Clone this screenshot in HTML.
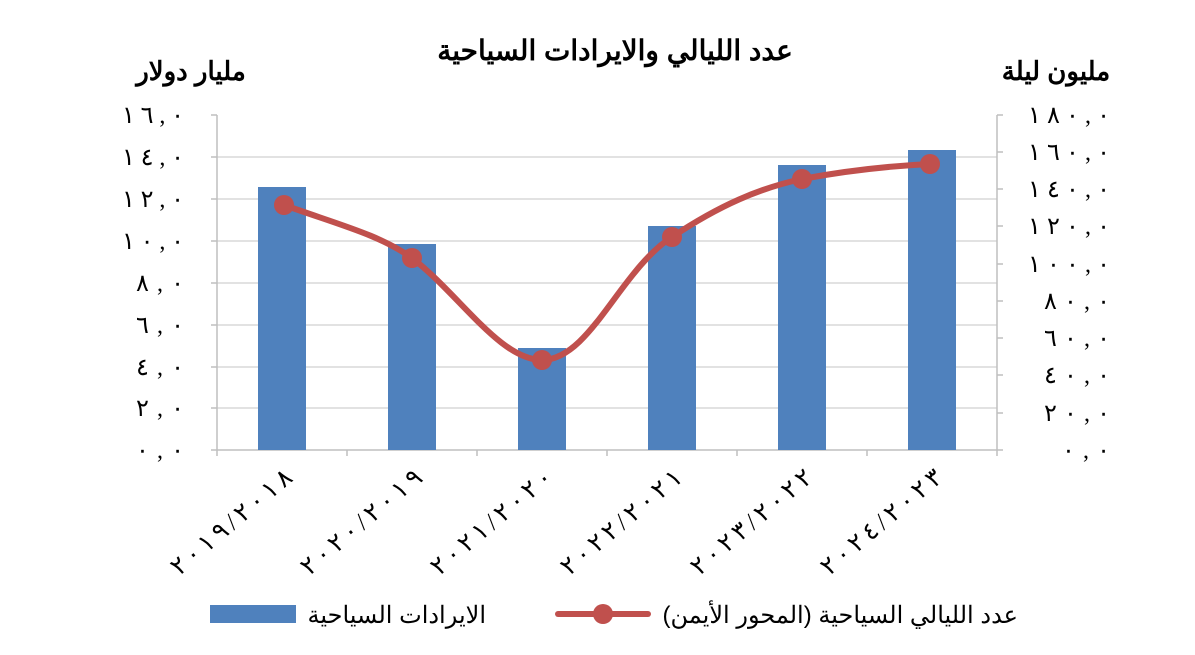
<!DOCTYPE html>
<html><head><meta charset="utf-8">
<style>
html,body{margin:0;padding:0;background:#fff;}
svg{display:block;}
text{font-family:"Liberation Serif","Noto Sans CJK SC",serif;fill:#000;}
.b{font-family:"Liberation Sans","Noto Sans CJK SC",sans-serif;font-weight:bold;}
.s{font-family:"Liberation Sans","Noto Sans CJK SC",sans-serif;}
</style></head><body>
<svg width="1195" height="655" viewBox="0 0 1195 655" xmlns="http://www.w3.org/2000/svg">
<rect width="1195" height="655" fill="#fff"/>
<text class="b" x="615" y="60" font-size="28" text-anchor="middle">عدد الليالي والايرادات السياحية</text>
<text class="b" x="191" y="80" font-size="26" text-anchor="middle">مليار دولار</text>
<text class="b" x="1056" y="80" font-size="26" text-anchor="middle">مليون ليلة</text>
<g stroke="#d9d9d9" stroke-width="1.5">
<line x1="217" y1="157" x2="997" y2="157"/><line x1="217" y1="199" x2="997" y2="199"/>
<line x1="217" y1="241" x2="997" y2="241"/><line x1="217" y1="283" x2="997" y2="283"/>
<line x1="217" y1="325" x2="997" y2="325"/><line x1="217" y1="367" x2="997" y2="367"/>
<line x1="217" y1="408" x2="997" y2="408"/>
</g>
<g stroke="#bfbfbf" stroke-width="1.5">
<line x1="217" y1="115" x2="217" y2="450"/><line x1="997" y1="115" x2="997" y2="450"/>
<line x1="217" y1="450" x2="997" y2="450"/>
<line x1="211" y1="115" x2="217" y2="115"/><line x1="211" y1="157" x2="217" y2="157"/><line x1="211" y1="199" x2="217" y2="199"/><line x1="211" y1="241" x2="217" y2="241"/><line x1="211" y1="283" x2="217" y2="283"/><line x1="211" y1="325" x2="217" y2="325"/><line x1="211" y1="367" x2="217" y2="367"/><line x1="211" y1="408" x2="217" y2="408"/><line x1="211" y1="450" x2="217" y2="450"/>
<line x1="997" y1="115" x2="1003" y2="115"/><line x1="997" y1="152" x2="1003" y2="152"/><line x1="997" y1="189" x2="1003" y2="189"/><line x1="997" y1="226" x2="1003" y2="226"/><line x1="997" y1="264" x2="1003" y2="264"/><line x1="997" y1="301" x2="1003" y2="301"/><line x1="997" y1="338" x2="1003" y2="338"/><line x1="997" y1="375" x2="1003" y2="375"/><line x1="997" y1="413" x2="1003" y2="413"/><line x1="997" y1="450" x2="1003" y2="450"/>
<line x1="217" y1="450" x2="217" y2="456"/><line x1="347" y1="450" x2="347" y2="456"/><line x1="477" y1="450" x2="477" y2="456"/><line x1="607" y1="450" x2="607" y2="456"/><line x1="737" y1="450" x2="737" y2="456"/><line x1="867" y1="450" x2="867" y2="456"/><line x1="997" y1="450" x2="997" y2="456"/>
</g>
<g font-size="24" text-anchor="end">
<text x="184" y="123" textLength="62">١٦,٠</text><text x="184" y="165" textLength="62">١٤,٠</text><text x="184" y="207" textLength="62">١٢,٠</text><text x="184" y="249" textLength="62">١٠,٠</text><text x="184" y="291" textLength="48">٨,٠</text><text x="184" y="333" textLength="48">٦,٠</text><text x="184" y="375" textLength="48">٤,٠</text><text x="184" y="416" textLength="48">٢,٠</text><text x="184" y="458" textLength="48">٠,٠</text>
</g>
<g font-size="24" text-anchor="end">
<text x="1110" y="123" textLength="82">١٨٠,٠</text><text x="1110" y="160" textLength="82">١٦٠,٠</text><text x="1110" y="197" textLength="82">١٤٠,٠</text><text x="1110" y="234" textLength="82">١٢٠,٠</text><text x="1110" y="272" textLength="82">١٠٠,٠</text><text x="1110" y="309" textLength="66">٨٠,٠</text><text x="1110" y="346" textLength="66">٦٠,٠</text><text x="1110" y="383" textLength="66">٤٠,٠</text><text x="1110" y="421" textLength="66">٢٠,٠</text><text x="1110" y="458" textLength="48">٠,٠</text>
</g>
<g fill="#4f81bd">
<rect x="258" y="187" width="48" height="263"/>
<rect x="388" y="244" width="48" height="206"/>
<rect x="518" y="348" width="48" height="102"/>
<rect x="648" y="226" width="48" height="224"/>
<rect x="778" y="165" width="48" height="285"/>
<rect x="908" y="150" width="48" height="300"/>
</g>
<path d="M284,205 C340,225 380,235 412,258 C460,295 500,360 542,360 C590,360 620,270 672,237 C720,205 760,188 802,179 C850,170 890,166 930,164" fill="none" stroke="#c0504d" stroke-width="6" stroke-linecap="round"/>
<g fill="#c0504d">
<circle cx="284" cy="205" r="10"/><circle cx="412" cy="258" r="10"/><circle cx="542" cy="360" r="10"/><circle cx="672" cy="237" r="10"/><circle cx="802" cy="179" r="10"/><circle cx="930" cy="164" r="10"/>
</g>
<g font-size="25" text-anchor="end">
<text transform="translate(294,480) rotate(-40)" textLength="150">٢٠١٩/٢٠١٨</text>
<text transform="translate(424,480) rotate(-40)" textLength="150">٢٠٢٠/٢٠١٩</text>
<text transform="translate(554,480) rotate(-40)" textLength="150">٢٠٢١/٢٠٢٠</text>
<text transform="translate(684,480) rotate(-40)" textLength="150">٢٠٢٢/٢٠٢١</text>
<text transform="translate(814,480) rotate(-40)" textLength="150">٢٠٢٣/٢٠٢٢</text>
<text transform="translate(944,480) rotate(-40)" textLength="150">٢٠٢٤/٢٠٢٣</text>
</g>
<rect x="210" y="605" width="86" height="18" fill="#4f81bd"/>
<text class="s" x="486" y="623" font-size="24" text-anchor="end">الايرادات السياحية</text>
<line x1="558" y1="614" x2="648" y2="614" stroke="#c0504d" stroke-width="6" stroke-linecap="round"/>
<circle cx="603" cy="614" r="10" fill="#c0504d"/>
<text class="s" x="1018" y="623" font-size="24" text-anchor="end">عدد الليالي السياحية (المحور الأيمن)</text>
</svg>
</body></html>
